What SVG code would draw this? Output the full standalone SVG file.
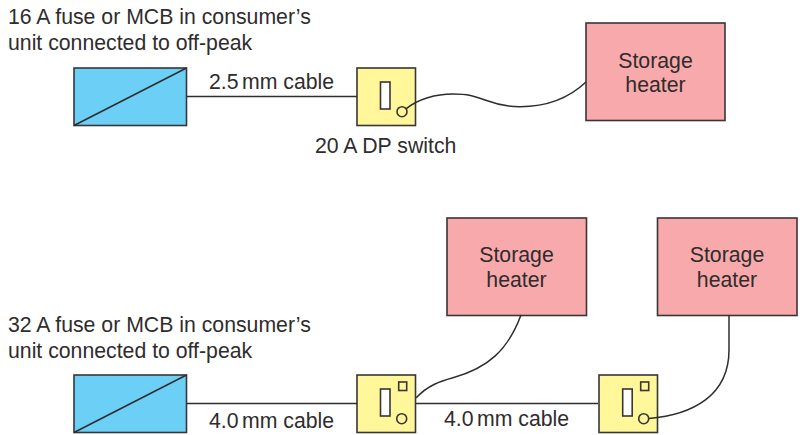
<svg xmlns="http://www.w3.org/2000/svg" width="802" height="435" viewBox="0 0 802 435">
<style>
text{font-family:"Liberation Sans",Arial,sans-serif;font-size:21.25px;fill:#2f2c2d}
.m{text-anchor:middle}
.b,.s,.h,.w{stroke:#3a3536;stroke-width:1.6}
.b{fill:#6bcff6}
.s{fill:#fff799}
.h{fill:#f8a9ac}
.w{fill:#fff}
.c{fill:none;stroke:#2f2c2d;stroke-width:1.5}
</style>
<rect width="802" height="435" fill="#fff"/>
<g id="fuse1"><rect class="b" x="74" y="68" width="112.500" height="57.500"/><path class="c" d="M74 125.500L186.500 68"/></g>
<g id="switch1"><rect class="s" x="357" y="68" width="58.500" height="57.500"/><rect class="w" x="380.500" y="82" width="9.500" height="27"/><circle class="s" cx="402" cy="111.700" r="5"/></g>
<g id="heater1"><rect class="h" x="586" y="23" width="139" height="97.500"/><text class="m" x="655.500" y="68">Storage</text><text class="m" x="655.500" y="92">heater</text></g>
<g id="fuse2"><rect class="b" x="74" y="375" width="112.500" height="57.500"/><path class="c" d="M74 432.500L186.500 375"/></g>
<g id="switch2"><rect class="s" x="357" y="375" width="58.500" height="57.500"/><rect class="w" x="380.500" y="389" width="9.500" height="27"/><rect class="s" x="398.700" y="382" width="8" height="8.500"/><circle class="s" cx="401.700" cy="418.700" r="5"/></g>
<g id="switch3"><rect class="s" x="599" y="375" width="58.500" height="57.500"/><rect class="w" x="622.700" y="389" width="9.500" height="27"/><rect class="s" x="640.700" y="382" width="8" height="8.500"/><circle class="s" cx="643.700" cy="418.700" r="5"/></g>
<g id="heater2"><rect class="h" x="447" y="218" width="139.500" height="97.500"/><text class="m" x="516.500" y="262">Storage</text><text class="m" x="516.500" y="287">heater</text></g>
<g id="heater3"><rect class="h" x="657.500" y="218" width="139.500" height="97.500"/><text class="m" x="727" y="262">Storage</text><text class="m" x="727" y="287">heater</text></g>
<g id="connectors">
<path class="c" d="M187 96.500H357"/>
<path class="c" d="M406 108.800C418 99 436 94 453 94C468 94 474 96 485 100C497 104.500 508 106.700 520 106.700C546 106.700 568 99 586 82"/>
<path class="c" d="M187 403.500H357"/>
<path class="c" d="M416 403.500H598"/>
<path class="c" d="M416 398C428 385 441 381 453 377.700C488 368 508 350 521 315"/>
<path class="c" d="M648.700 418.500C692 415 729 396 729 350V315"/>
</g>
<g id="labels">
<text x="8" y="24">16 A fuse or MCB in consumer’s</text>
<text x="8" y="50">unit connected to off-peak</text>
<text x="209" y="89">2.5 <tspan dx="-2.500">mm cable</tspan></text>
<text x="315" y="153">20 A DP switch</text>
<text x="8" y="332">32 A fuse or MCB in consumer’s</text>
<text x="8" y="358">unit connected to off-peak</text>
<text x="209" y="428">4.0 <tspan dx="-2.500">mm cable</tspan></text>
<text x="444" y="426">4.0 <tspan dx="-2.500">mm cable</tspan></text>
</g>
</svg>
